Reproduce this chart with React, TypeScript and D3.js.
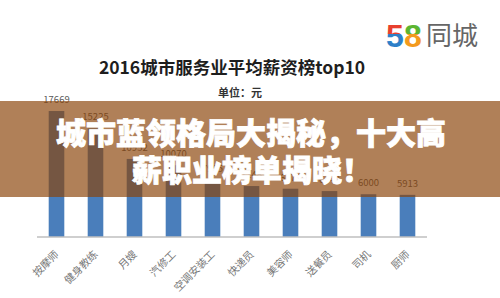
import React from 'react';
import * as d3 from 'd3';

const categories = ['按摩师', '健身教练', '月嫂', '汽修工', '空调安装工', '快递员', '美容师', '送餐员', '司机', '厨师'];
const values = [17669, 15225, 10952, 10070, 7985, 7148, 6773, 6443, 6000, 5913];
const title = '2016城市服务业平均薪资榜top10';
const unitLabel = '单位：元';
const bannerLines = ['城市蓝领格局大揭秘，十大高', '薪职业榜单揭晓！'];

const W = 500;
const H = 298;

export default function App() {
  const x = d3.scaleBand<string>().domain(categories).range([37, 427]).paddingInner(0.6).paddingOuter(0.3);
  const y = d3.scaleLinear().domain([0, 20000]).range([237, 94.4]);
  const sans = '"Noto Sans CJK SC", "Noto Sans", sans-serif';

  return (
    <div style={{ position: 'fixed', left: 0, top: 0, width: W, height: H, background: '#fff' }}>
      <svg width={W} height={H} viewBox={`0 0 ${W} ${H}`} style={{ display: 'block' }}>
        <defs>
          <linearGradient id="g5" x1="0" y1="0" x2="0" y2="1">
            <stop offset="0%" stopColor="#e8402f" />
            <stop offset="45%" stopColor="#e8402f" />
            <stop offset="45%" stopColor="#2e7fc8" />
            <stop offset="100%" stopColor="#2e7fc8" />
          </linearGradient>
          <linearGradient id="g8" x1="0" y1="0" x2="0" y2="1">
            <stop offset="0%" stopColor="#5cb531" />
            <stop offset="45%" stopColor="#5cb531" />
            <stop offset="45%" stopColor="#f39a1e" />
            <stop offset="100%" stopColor="#f39a1e" />
          </linearGradient>
        </defs>
        <rect x={0} y={0} width={W} height={H} fill="#fff" />

        {/* logo */}
        <text x={386} y={47} fontFamily='"Liberation Sans", Arial, sans-serif' fontWeight={700} fontSize={32} fill="url(#g5)">5</text>
        <text x={404} y={47} fontFamily='"Liberation Sans", Arial, sans-serif' fontWeight={700} fontSize={32} fill="url(#g8)">8</text>
        <text x={426} y={45} fontFamily={sans} fontSize={26} fill="#666">同城</text>

        {/* title */}
        <text x={232} y={74} textAnchor="middle" fontFamily={sans} fontWeight={700} fontSize={17.5} fill="#1e1e1e">{title}</text>
        <text x={240} y={97} textAnchor="middle" fontFamily={sans} fontWeight={700} fontSize={11} fill="#333">{unitLabel}</text>

        {/* bars */}
        {categories.map((c, i) => (
          <rect key={c} x={x(c)} y={y(values[i])} width={x.bandwidth()} height={y(0) - y(values[i])} fill="#4a7ebb" />
        ))}
        {categories.map((c, i) => (
          <text key={'v' + c} x={(x(c) as number) + x.bandwidth() / 2} y={y(values[i]) - 8} textAnchor="middle" fontFamily={sans} fontSize={9.5} fill="#595959">{values[i]}</text>
        ))}
        <line x1={37} x2={427} y1={237} y2={237} stroke="#bfbfbf" strokeWidth={1.5} />
        {categories.map((c) => (
          <text key={'c' + c} transform={`translate(${(x(c) as number) + x.bandwidth() / 2 + 3},255) rotate(-45)`} textAnchor="end" fontFamily={sans} fontSize={10.5} fill="#777">{c}</text>
        ))}

        {/* banner overlay */}
        <rect x={0} y={101} width={W} height={96} fill="#8b4409" fillOpacity={0.68} />
        <text x={251} y={144} textAnchor="middle" fontFamily={sans} fontWeight={900} fontSize={30} fill="#fff" stroke="#fff" strokeWidth={0.8}>{bannerLines[0]}</text>
        <text x={252} y={181} textAnchor="middle" fontFamily={sans} fontWeight={900} fontSize={30} fill="#fff" stroke="#fff" strokeWidth={0.8}>{bannerLines[1]}</text>
      </svg>
    </div>
  );
}
